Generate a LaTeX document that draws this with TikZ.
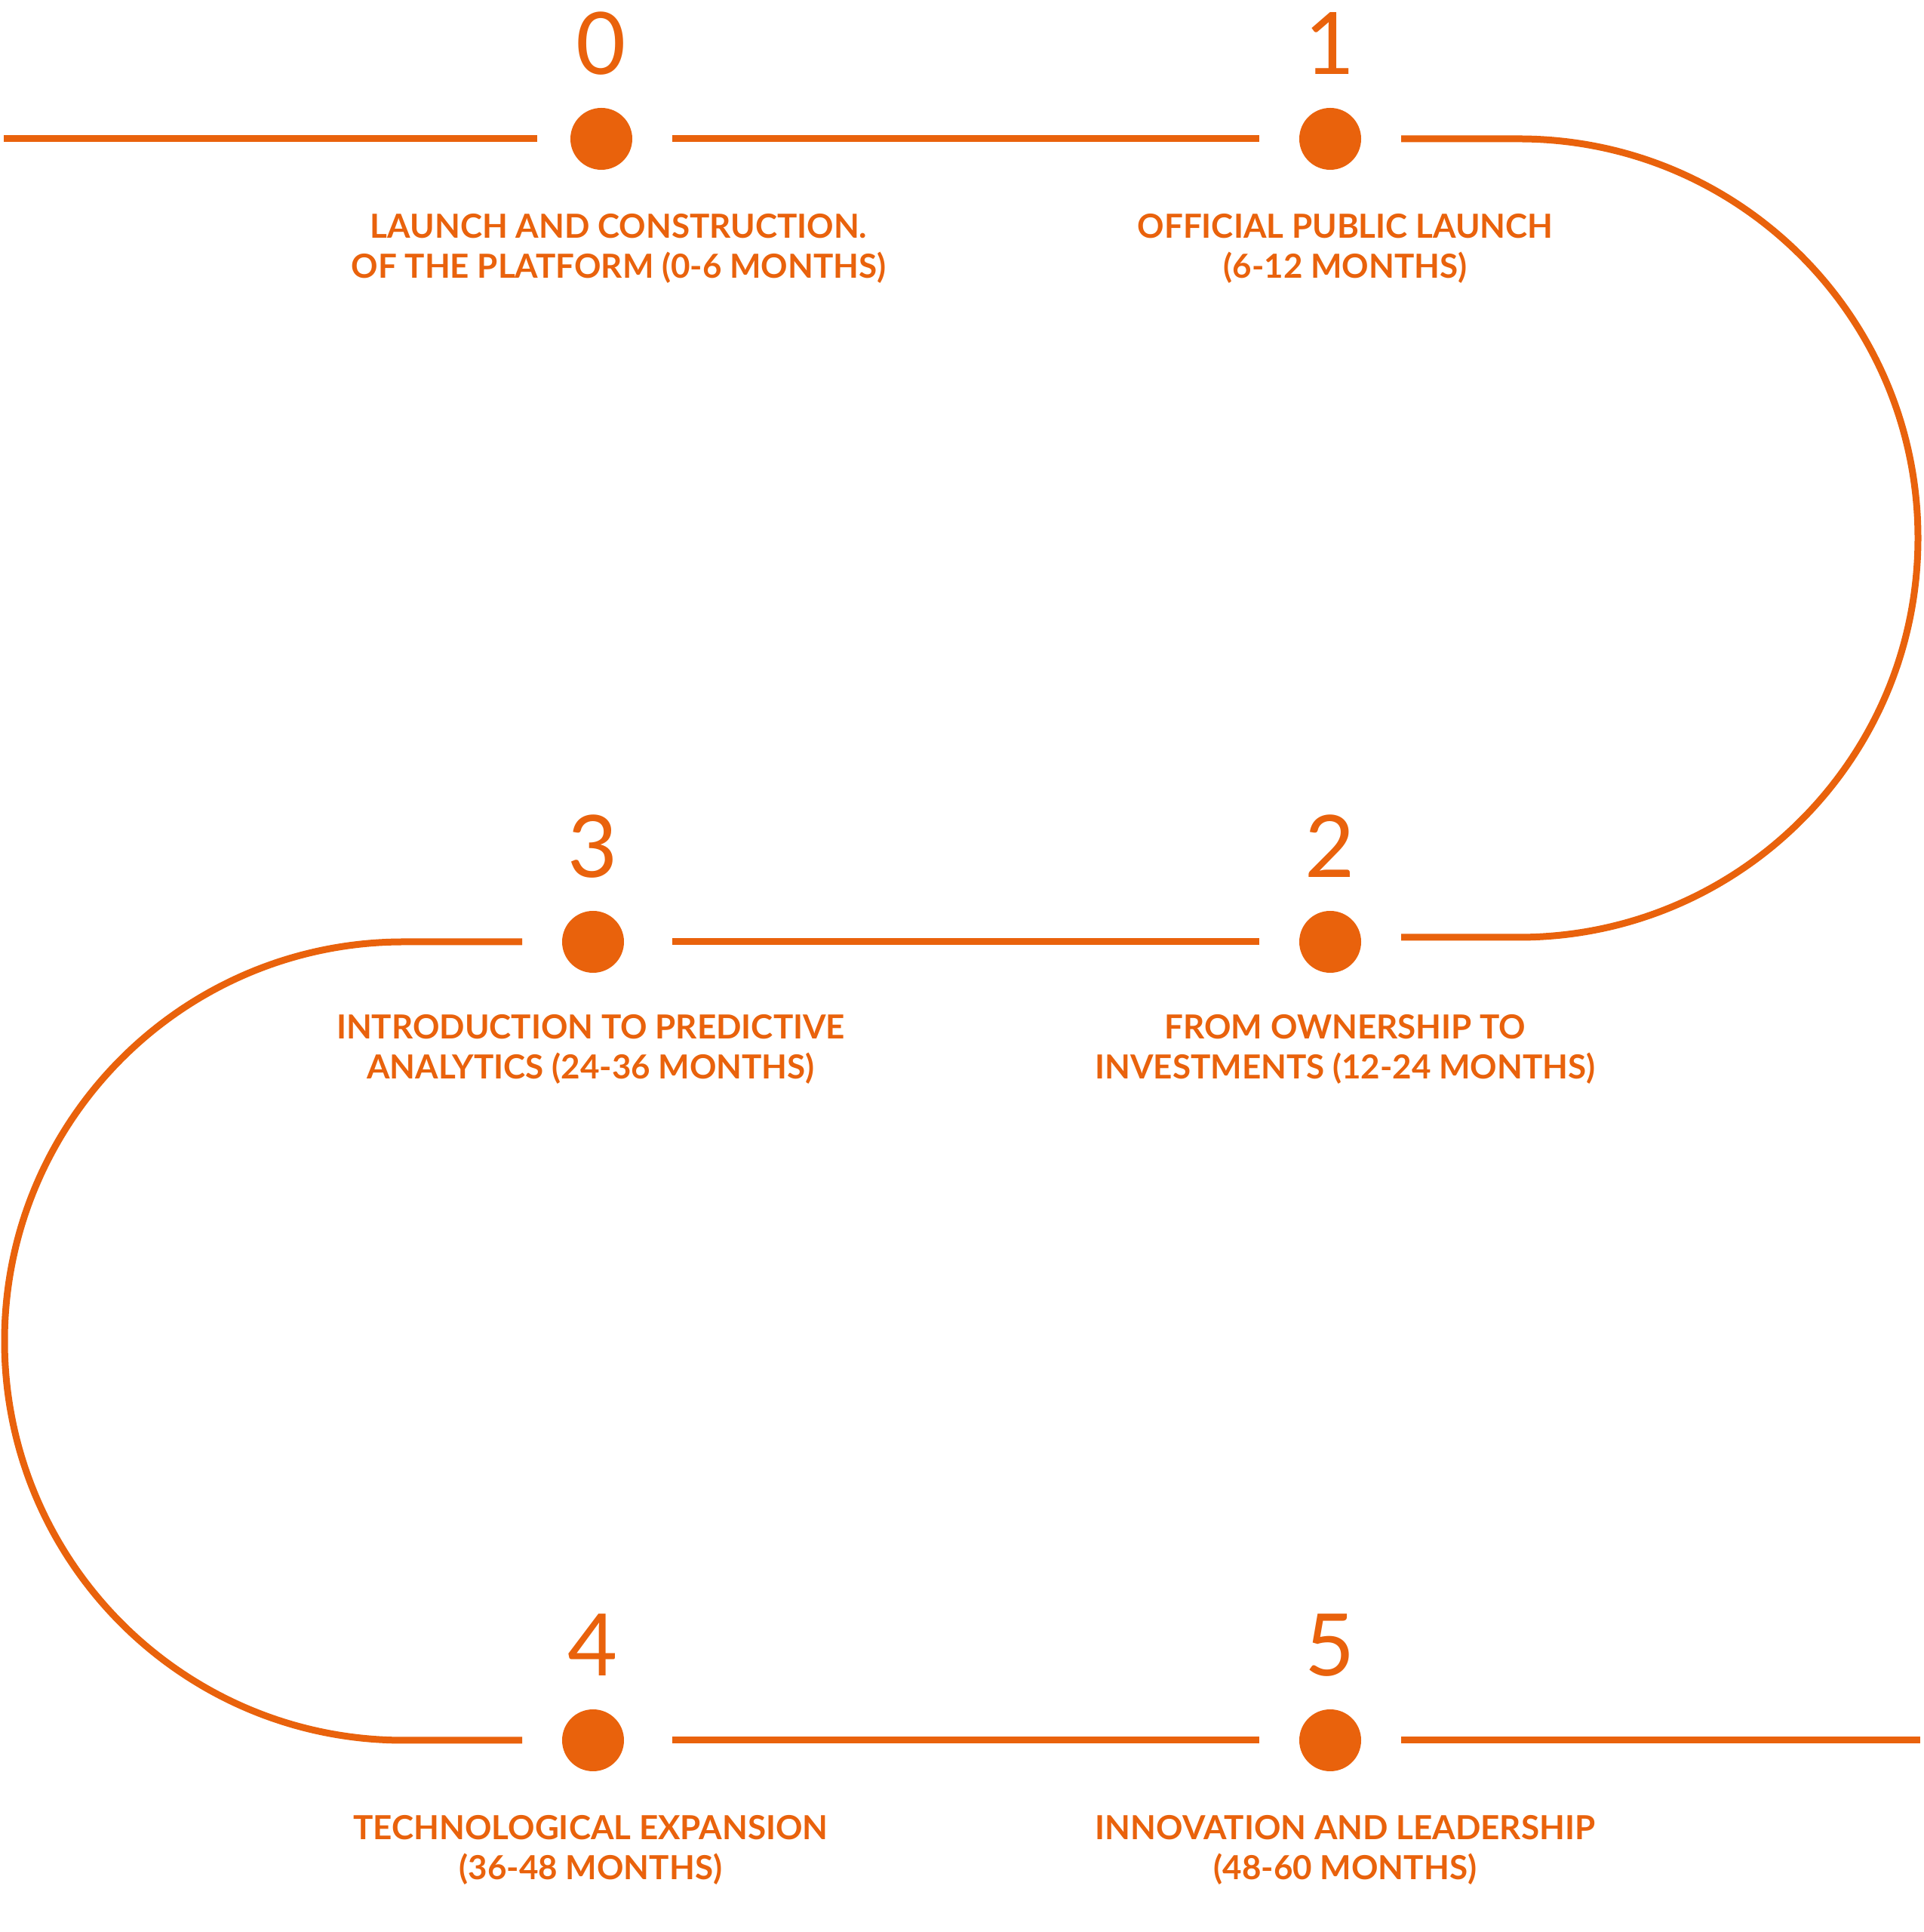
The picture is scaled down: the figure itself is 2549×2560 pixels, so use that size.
\documentclass[tikz,border=0pt]{standalone}
\usepackage{fontspec}
\setmainfont{Lato}
\usetikzlibrary{positioning}
\definecolor{roadorange}{RGB}{233,98,12}

\begin{document}
\begin{tikzpicture}[x=0.1mm, y=0.1mm,
        dot/.style={circle, fill=roadorange, minimum size=8.2mm, inner sep=0pt, outer sep=5.3mm},
        stepnum/.style={text=roadorange, font=\fontsize{32.5}{32.5}\selectfont, anchor=base, inner sep=0pt},
        steptext/.style={text=roadorange, font=\bfseries\fontsize{12.5}{15.1}\selectfont, align=center, anchor=north, inner sep=0pt},
        road/.style={draw=roadorange, line width=0.9mm}]
        \fill[white] (0,0) rectangle (2549,2560);
        \foreach \n/\x/\y in {0/797/2376, 1/1763/2376, 2/1763/1312, 3/786/1312, 4/786/254, 5/1763/254} {
            \node[dot] (dot\n) at (\x,\y) {};
            \node[stepnum] (num\n) at (\x,\y+85) {\n};
        }
        \node[steptext] (text0) at (820,2277) {LAUNCH AND CONSTRUCTION.\\OF THE PLATFORM (0-6 MONTHS)};
        \node[steptext] (text1) at (1783,2277) {OFFICIAL PUBLIC LAUNCH\\(6-12 MONTHS)};
        \node[steptext] (text2) at (1783,1216) {FROM OWNERSHIP TO\\INVESTMENTS (12-24 MONTHS)};
        \node[steptext] (text3) at (783,1216) {INTRODUCTION TO PREDICTIVE\\ANALYTICS (24-36 MONTHS)};
        \node[steptext] (text4) at (783,155) {TECHNOLOGICAL EXPANSION\\(36-48 MONTHS)};
        \node[steptext] (text5) at (1783,155) {INNOVATION AND LEADERSHIP\\(48-60 MONTHS)};
        \coordinate (start) at (5,2376);
        \coordinate (finish) at (2545,254);
        \draw[road, shorten >=-0.9mm] (start) -- (dot0);
        \draw[road] (dot0) -- (dot1);
        \draw[road] (dot1.east) -- (2013,2376) arc[start angle=90, end angle=-90, radius=52.9mm] coordinate (bend2) -- (bend2 -| dot2.east);
        \draw[road, shorten >=1.1mm] (dot2) -- (dot3);
        \draw[road] (dot3.west) -- (535,1312) arc[start angle=90, end angle=270, radius=52.9mm] coordinate (bend4) -- (bend4 -| dot4.west);
        \draw[road, shorten <=1.1mm] (dot4) -- (dot5);
        \draw[road] (dot5) -- (finish);
\end{tikzpicture}
\end{document}
